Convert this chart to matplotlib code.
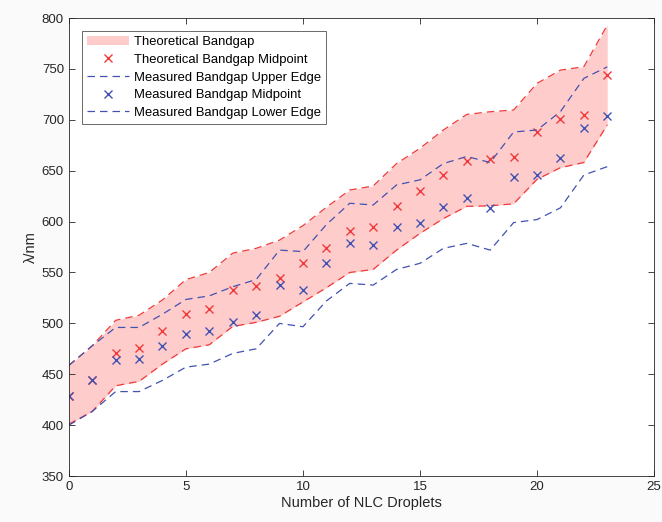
import matplotlib
matplotlib.use("Agg")
import matplotlib.pyplot as plt
import numpy as np

droplets = list(range(24))
theo_upper = [458.7, 478, 503, 508, 523, 543, 550, 569, 573.7, 581.8, 596, 614, 631, 635,
              657, 672, 690, 705.3, 707.9, 709.6, 735.8, 748.8, 752.1, 793]
theo_lower = [401, 413.5, 438.7, 443, 460, 475, 479, 497, 501, 507, 521, 535, 550, 553,
              572, 588.4, 603, 615, 615.5, 617.5, 641.5, 653, 658, 695]
theo_mid = [429, 444, 471, 476, 492.6, 509.5, 514, 532.7, 536.6, 544.8, 559.6, 574.5, 590.7, 595,
            615.3, 630.5, 645.7, 659.8, 661.4, 663, 688.3, 700.4, 704.6, 743.9]
meas_upper = [458.7, 478, 496, 496, 509, 523.5, 527, 536, 543, 572, 570.5, 597, 618, 616.3,
              636, 641, 657, 664, 658, 688, 690, 708, 740.7, 752]
meas_mid = [429, 444, 464, 465, 478, 489.5, 493, 501.6, 508, 537.6, 532.7, 559, 579, 577,
            595, 599, 614, 622.7, 612.9, 643.4, 645.7, 662.7, 691.5, 703.7]
meas_lower = [400, 413.5, 433, 433, 444, 457, 460, 470.5, 475, 500, 496.7, 522, 539.3, 537.6,
              553, 559, 573.7, 578.6, 572, 599, 602, 613.5, 645.7, 654]

plt.rcParams['font.family'] = ['Liberation Sans', 'DejaVu Sans']

red = '#f03a3a'
blue = '#4252b0'
pink = '#ffcccc'

fig = plt.figure(figsize=(6.62, 5.22), dpi=100, facecolor='#fafafa')
ax = fig.add_axes([0.104, 0.088, 0.884, 0.8775])

x = np.array(droplets)
ax.fill_between(x, theo_lower, theo_upper, color=pink, linewidth=0, label='Theoretical Bandgap')
ax.plot(x, theo_upper, '--', color=red, lw=0.9, dashes=(6, 4))
ax.plot(x, theo_lower, '--', color=red, lw=0.9, dashes=(6, 4))
ax.plot(x, theo_mid, 'x', color=red, ms=6, mew=1.0, label='Theoretical Bandgap Midpoint')
ax.plot(x, meas_upper, '--', color=blue, lw=0.9, dashes=(6, 4), label='Measured Bandgap Upper Edge')
ax.plot(x, meas_mid, 'x', color=blue, ms=6, mew=1.0, label='Measured Bandgap Midpoint')
ax.plot(x, meas_lower, '--', color=blue, lw=0.9, dashes=(6, 4), label='Measured Bandgap Lower Edge')

ax.set_xlim(0, 25)
ax.set_ylim(350, 800)
ax.set_xticks([0, 5, 10, 15, 20, 25])
ax.set_yticks(list(range(350, 801, 50)))
ax.tick_params(direction='in', top=True, right=True, labelsize=9.5, colors='#262626',
               length=4, width=0.6)
for s in ax.spines.values():
    s.set_color('#262626')
    s.set_linewidth(0.6)

ax.set_xlabel('Number of NLC Droplets', fontsize=10.5, color='#262626', labelpad=2)
ax.set_ylabel('λ/nm', fontsize=10.5, color='#262626', labelpad=3)

leg = ax.legend(loc='upper left', fontsize=9.4, frameon=True, fancybox=False,
                edgecolor='#262626', handlelength=3.2, borderaxespad=1.0,
                labelspacing=0.42, handletextpad=0.36, borderpad=0.4)
leg.get_frame().set_linewidth(0.6)

fig.savefig('out.png', dpi=100, facecolor=fig.get_facecolor())
